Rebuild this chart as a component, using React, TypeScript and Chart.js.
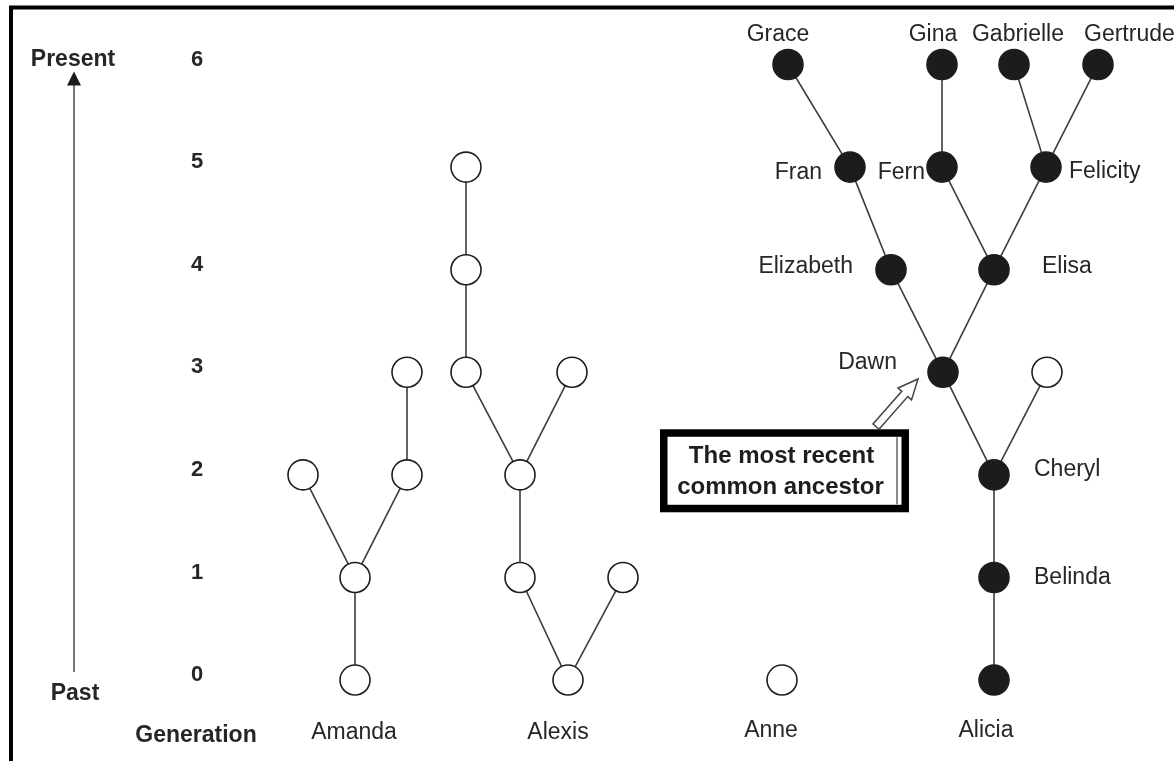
import { useEffect, useRef } from "react";
import { Chart, registerables } from "chart.js";

Chart.register(...registerables);

// ---- Data ----
const GENERATIONS = [0, 1, 2, 3, 4, 5, 6];
const GENERATION_LABELS = ["0", "1", "2", "3", "4", "5", "6"];

// Individuals: horizontal lane position, generation, ancestor of Alicia (filled), name
const NODE_IDS = [
  "amanda", "amanda1", "amanda2a", "amanda2b", "amanda3",
  "alexis", "alexis1a", "alexis1b", "alexis2", "alexis3a", "alexis3b", "alexis4", "alexis5",
  "anne",
  "alicia", "belinda", "cheryl", "cheryl_other", "dawn", "elizabeth", "elisa",
  "fran", "fern", "felicity", "grace", "gina", "gabrielle", "gertrude",
];
const NODE_LANE = [
  355, 355, 303, 407, 407,
  568, 520, 623, 520, 466, 572, 466, 466,
  782,
  994, 994, 994, 1047, 943, 891, 994,
  850, 942, 1046, 788, 942, 1014, 1098,
];
const NODE_GEN = [
  0, 1, 2, 2, 3,
  0, 1, 1, 2, 3, 3, 4, 5,
  0,
  0, 1, 2, 3, 3, 4, 4,
  5, 5, 5, 6, 6, 6, 6,
];
const NODE_FILLED = [
  false, false, false, false, false,
  false, false, false, false, false, false, false, false,
  false,
  true, true, true, false, true, true, true,
  true, true, true, true, true, true, true,
];
const NODE_NAMES = [
  "Amanda", "", "", "", "",
  "Alexis", "", "", "", "", "", "", "",
  "Anne",
  "Alicia", "Belinda", "Cheryl", "", "Dawn", "Elizabeth", "Elisa",
  "Fran", "Fern", "Felicity", "Grace", "Gina", "Gabrielle", "Gertrude",
];

// Parent links: [child, parent]
const EDGE_CHILD = [0, 1, 1, 3, 5, 5, 6, 8, 8, 9, 11, 14, 15, 16, 16, 18, 18, 19, 20, 20, 21, 22, 23, 23];
const EDGE_PARENT = [1, 2, 3, 4, 6, 7, 8, 9, 10, 11, 12, 15, 16, 18, 17, 19, 20, 21, 22, 23, 24, 25, 26, 27];

const AXIS_TOP = "Present";
const AXIS_BOTTOM = "Past";
const AXIS_TITLE = "Generation";
const CALLOUT_LINES = ["The most recent", "common ancestor"];

// ---- Styling / placement (not data) ----
type Place = { align: CanvasTextAlign; dx: number; dy: number };
const LABEL_PLACE: Record<string, Place> = {
  Amanda: { align: "center", dx: -1, dy: 53 },
  Alexis: { align: "center", dx: -10, dy: 53 },
  Anne: { align: "center", dx: -11, dy: 51 },
  Alicia: { align: "center", dx: -8, dy: 51 },
  Belinda: { align: "left", dx: 40, dy: 0 },
  Cheryl: { align: "left", dx: 40, dy: -5 },
  Dawn: { align: "right", dx: -46, dy: -10 },
  Elizabeth: { align: "right", dx: -38, dy: -3 },
  Elisa: { align: "left", dx: 48, dy: -3 },
  Fran: { align: "right", dx: -28, dy: 6 },
  Fern: { align: "right", dx: -17, dy: 6 },
  Felicity: { align: "left", dx: 23, dy: 5 },
  Grace: { align: "center", dx: -10, dy: -30 },
  Gina: { align: "center", dx: -9, dy: -30 },
  Gabrielle: { align: "center", dx: 4, dy: -30 },
  Gertrude: { align: "left", dx: -14, dy: -30 },
};

const FONT = '"Liberation Sans", Arial, sans-serif';
const TEXT_COLOR = "#262626";
const LINE_COLOR = "#3c3c3c";

const overlayPlugin = {
  id: "genealogyOverlay",
  afterDatasetsDraw(chart: any) {
    const ctx: CanvasRenderingContext2D = chart.ctx;
    const xs = chart.scales.x;
    const ys = chart.scales.y;
    const px = (v: number) => xs.getPixelForValue(v);
    const py = (v: number) => ys.getPixelForValue(v);
    ctx.save();

    // outer frame
    ctx.strokeStyle = "#000";
    ctx.lineWidth = 4;
    ctx.strokeRect(11, 7.5, 1300, 900);

    // time arrow
    const arrowX = 74;
    const yTop = py(6) + 7;
    const yBot = py(0) - 8;
    ctx.strokeStyle = "#4a4a4a";
    ctx.lineWidth = 1.5;
    ctx.beginPath();
    ctx.moveTo(arrowX, yTop + 10);
    ctx.lineTo(arrowX, yBot);
    ctx.stroke();
    ctx.fillStyle = "#1a1a1a";
    ctx.beginPath();
    ctx.moveTo(arrowX, yTop);
    ctx.lineTo(arrowX - 7, yTop + 14);
    ctx.lineTo(arrowX + 7, yTop + 14);
    ctx.closePath();
    ctx.fill();

    ctx.textBaseline = "middle";
    ctx.fillStyle = TEXT_COLOR;

    // Present / Past / Generation
    ctx.font = `bold 23px ${FONT}`;
    ctx.textAlign = "center";
    ctx.fillText(AXIS_TOP, 73, py(6) - 5);
    ctx.fillText(AXIS_BOTTOM, 75, py(0) + 14);
    ctx.fillText(AXIS_TITLE, 196, py(0) + 56);

    // generation numbers
    ctx.font = `bold 22px ${FONT}`;
    GENERATIONS.forEach((g, i) => {
      ctx.fillText(GENERATION_LABELS[i], 197, py(g) - 5);
    });

    // names
    ctx.font = `23px ${FONT}`;
    NODE_NAMES.forEach((name, i) => {
      if (!name) return;
      const p = LABEL_PLACE[name] || { align: "center", dx: 0, dy: -30 };
      ctx.textAlign = p.align;
      ctx.fillText(name, px(NODE_LANE[i]) + p.dx, py(NODE_GEN[i]) + p.dy);
    });

    // callout box
    const bx = px(784.5);
    const by = py(2.04);
    const bw = 249;
    const bh = 83;
    ctx.fillStyle = "#fff";
    ctx.fillRect(bx - bw / 2, by - bh / 2, bw, bh);
    ctx.strokeStyle = "#000";
    ctx.lineWidth = 7.5;
    ctx.strokeRect(bx - bw / 2 + 3.75, by - bh / 2 + 3.75, bw - 7.5, bh - 7.5);
    ctx.strokeStyle = "#8a8a8a";
    ctx.lineWidth = 2;
    ctx.beginPath();
    ctx.moveTo(bx + bw / 2 - 12, by - bh / 2 + 8);
    ctx.lineTo(bx + bw / 2 - 12, by + bh / 2 - 8);
    ctx.stroke();
    ctx.fillStyle = "#1e1e1e";
    ctx.font = `bold 24px ${FONT}`;
    ctx.textAlign = "center";
    ctx.fillText(CALLOUT_LINES[0], bx - 3, by - 14);
    ctx.fillText(CALLOUT_LINES[1], bx - 4, by + 17);

    // hollow arrow toward Dawn
    const tx = px(918), ty = py(2.935);
    const sx = px(876), sy = py(2.47);
    const L = Math.hypot(tx - sx, ty - sy);
    const ux = (tx - sx) / L, uy = (ty - sy) / L;
    const nx = -uy, ny = ux;
    const hl = 20, hw = 9, sw = 4;
    const nkx = tx - ux * hl, nky = ty - uy * hl;
    ctx.beginPath();
    ctx.moveTo(sx + nx * sw, sy + ny * sw);
    ctx.lineTo(nkx + nx * sw, nky + ny * sw);
    ctx.lineTo(nkx + nx * hw, nky + ny * hw);
    ctx.lineTo(tx, ty);
    ctx.lineTo(nkx - nx * hw, nky - ny * hw);
    ctx.lineTo(nkx - nx * sw, nky - ny * sw);
    ctx.lineTo(sx - nx * sw, sy - ny * sw);
    ctx.closePath();
    ctx.fillStyle = "#fff";
    ctx.fill();
    ctx.strokeStyle = "#444";
    ctx.lineWidth = 1.5;
    ctx.stroke();

    ctx.restore();
  },
};

export default function App() {
  const ref = useRef<HTMLCanvasElement | null>(null);

  useEffect(() => {
    if (!ref.current) return;
    const edgeSets = EDGE_CHILD.map((c, i) => {
      const p = EDGE_PARENT[i];
      return {
        type: "scatter" as const,
        data: [
          { x: NODE_LANE[c], y: NODE_GEN[c] },
          { x: NODE_LANE[p], y: NODE_GEN[p] },
        ],
        showLine: true,
        borderColor: LINE_COLOR,
        borderWidth: 1.6,
        pointRadius: 0,
        order: 2,
      };
    });
    const nodeSet = {
      type: "scatter" as const,
      data: NODE_IDS.map((_, i) => ({ x: NODE_LANE[i], y: NODE_GEN[i] })),
      pointRadius: 15,
      pointBackgroundColor: NODE_FILLED.map((f) => (f ? "#1c1c1c" : "#ffffff")),
      pointBorderColor: "#1e1e1e",
      pointBorderWidth: 1.6,
      showLine: false,
      order: 0,
    };
    const chart = new Chart(ref.current, {
      type: "scatter",
      data: { datasets: [nodeSet, ...edgeSets] as any },
      options: {
        animation: false,
        responsive: false,
        layout: { padding: 0, autoPadding: false },
        plugins: { legend: { display: false }, tooltip: { enabled: false } },
        scales: {
          x: { type: "linear", min: 0, max: 1174, display: false },
          y: { type: "linear", min: -0.789, max: 6.629, display: false },
        },
      },
      plugins: [overlayPlugin],
    });
    return () => chart.destroy();
  }, []);

  return (
    <div style={{ position: "fixed", left: 0, top: 0, width: 1174, height: 761, background: "#fff" }}>
      <canvas ref={ref} width={1174} height={761} style={{ display: "block", width: 1174, height: 761 }} />
    </div>
  );
}
